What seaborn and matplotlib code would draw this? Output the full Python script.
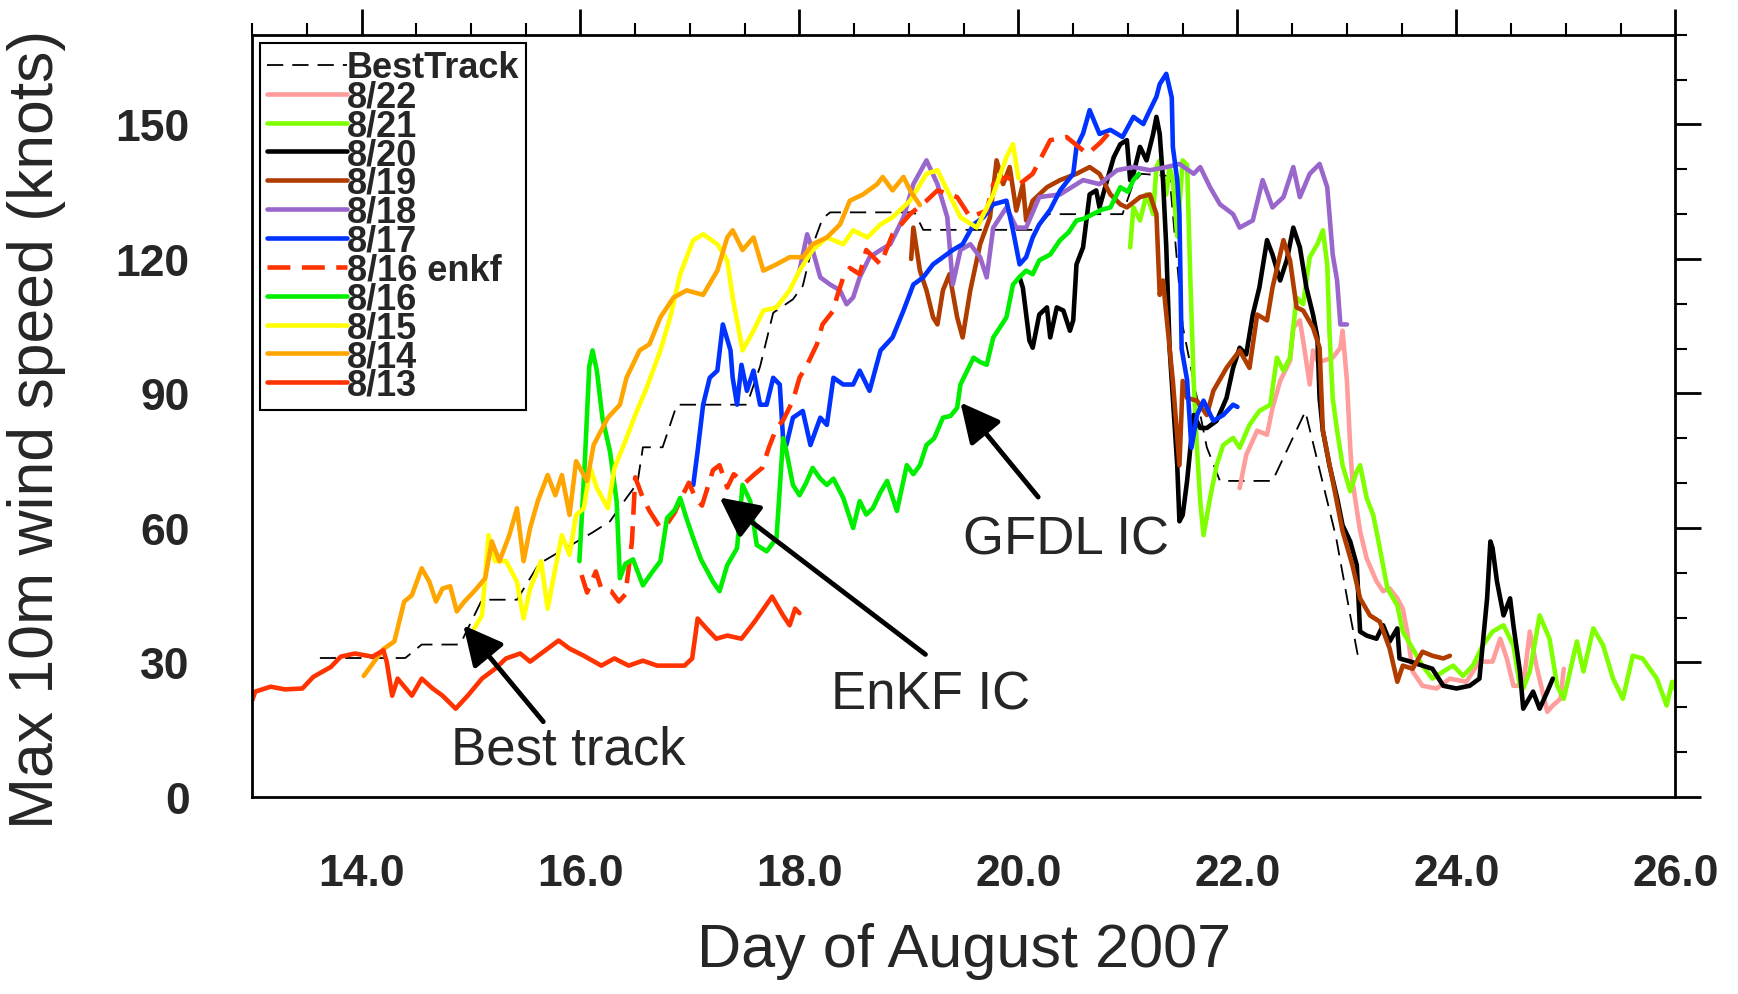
import matplotlib
matplotlib.use("Agg")
import matplotlib.pyplot as plt
from matplotlib.ticker import MultipleLocator, FormatStrFormatter
import seaborn as sns

# max 10 m wind (knots) vs day of August 2007
best = [(13.62, 31), (14.40, 31), (14.55, 34), (14.90, 34), (15.10, 44), (15.42, 44),
        (15.62, 52), (15.90, 56), (16.11, 59), (16.27, 61.5), (16.42, 66.7), (16.52, 70),
        (16.57, 78), (16.75, 78), (16.88, 87.5), (17.52, 87.5), (17.64, 96), (17.76, 108),
        (17.94, 111), (18.03, 114), (18.12, 123), (18.21, 129), (18.28, 130.4), (19.05, 130.4),
        (19.13, 126.5), (20.15, 126.5), (20.28, 130), (20.95, 130), (21.05, 137), (21.12, 139),
        (21.38, 138.5), (21.50, 105), (21.72, 78), (21.84, 70.5), (22.32, 70.5), (22.62, 86),
        (22.75, 73), (22.90, 58), (23.03, 40.5), (23.10, 31.5)]

run22 = [(22.02, 68.9), (22.08, 76.3), (22.18, 81.7), (22.27, 80.8), (22.32, 86.8), (22.39, 92.8),
         (22.48, 97.3), (22.51, 104.7), (22.57, 106.3), (22.60, 101.8), (22.66, 92), (22.69, 99.6),
         (22.73, 97.3), (22.78, 97.3), (22.87, 98), (22.94, 100.2), (22.96, 104), (23.00, 92.8),
         (23.03, 78), (23.05, 70.5), (23.12, 59.3), (23.18, 53.2), (23.27, 48.1), (23.33, 45.9),
         (23.39, 46.5), (23.46, 44.3), (23.51, 42), (23.55, 36.9), (23.60, 28), (23.69, 24.8),
         (23.82, 24.2), (23.94, 26.4), (24.09, 25.7), (24.21, 30.2), (24.33, 30.2), (24.40, 35.3),
         (24.46, 30.9), (24.52, 24.8), (24.61, 24.8), (24.67, 36.9), (24.73, 29.3), (24.83, 19),
         (24.88, 20.4), (24.95, 21.9), (24.98, 28.6)]

run21 = [(21.02, 122.6), (21.05, 131.5), (21.11, 128.6), (21.17, 134.4), (21.23, 130), (21.26, 140.5),
         (21.29, 142), (21.35, 134.4), (21.38, 140.5), (21.41, 137.6), (21.45, 125), (21.50, 142),
         (21.54, 141), (21.57, 115.2), (21.60, 92.8), (21.63, 77.9), (21.66, 66), (21.69, 58.4),
         (21.75, 66.7), (21.81, 74), (21.87, 78.5), (21.96, 80.1), (22.02, 77.9), (22.11, 83),
         (22.20, 86.1), (22.30, 87.5), (22.36, 98), (22.42, 95.1), (22.48, 98), (22.54, 111.4),
         (22.60, 109.9), (22.66, 120.4), (22.73, 123.3), (22.78, 126.4), (22.82, 118.8), (22.84, 104),
         (22.87, 89), (22.91, 81.7), (22.96, 74), (23.03, 68.2), (23.09, 72.7), (23.12, 74),
         (23.18, 66.7), (23.24, 62.9), (23.30, 55.5), (23.37, 46.5), (23.46, 42.7), (23.51, 36.9),
         (23.60, 33.1), (23.69, 29.3), (23.78, 26.4), (23.88, 28), (23.97, 29.3), (24.06, 27),
         (24.15, 29.3), (24.24, 33.8), (24.33, 36.9), (24.43, 38.3), (24.52, 33.8), (24.58, 24.8),
         (24.61, 24.2), (24.67, 28), (24.76, 40.5), (24.85, 35.3), (24.92, 24.8), (24.98, 21.9),
         (25.10, 34.7), (25.16, 28), (25.25, 37.6), (25.34, 33.8), (25.43, 26.4), (25.52, 21.9),
         (25.61, 31.5), (25.70, 30.9), (25.83, 26.4), (25.92, 20.4), (25.97, 25.7), (26.00, 24)]

run20 = [(20.01, 115.9), (20.04, 113.6), (20.10, 101.8), (20.13, 100.2), (20.19, 107.6), (20.26, 109.2),
         (20.29, 102.5), (20.35, 109.2), (20.41, 108.5), (20.47, 104), (20.50, 106.3), (20.53, 118.8),
         (20.59, 122.6), (20.65, 134.4), (20.71, 135.3), (20.74, 131.5), (20.81, 137.6), (20.87, 142.7),
         (20.93, 145.6), (20.99, 146.5), (21.02, 137.6), (21.05, 139), (21.11, 145), (21.17, 142),
         (21.23, 147.9), (21.26, 151.7), (21.29, 147.9), (21.32, 137.6), (21.35, 122.6), (21.38, 100.2),
         (21.41, 89), (21.45, 74), (21.47, 61.5), (21.50, 62.9), (21.54, 70.5), (21.57, 77.9),
         (21.60, 85.2), (21.66, 82.3), (21.72, 82.3), (21.81, 83.9), (21.90, 89), (21.96, 95.7),
         (22.02, 100.2), (22.08, 98.7), (22.14, 107.6), (22.20, 113.6), (22.27, 124.2), (22.32, 121),
         (22.39, 115.2), (22.45, 119.7), (22.51, 127), (22.57, 122.6), (22.63, 113.6), (22.69, 107.6),
         (22.73, 102.5), (22.75, 89), (22.78, 81.7), (22.84, 74), (22.91, 66.7), (22.96, 60.6),
         (23.03, 57), (23.09, 51.7), (23.12, 36.9), (23.18, 36), (23.27, 35.3), (23.33, 38.3),
         (23.39, 34.7), (23.46, 37.6), (23.48, 30.9), (23.58, 30.2), (23.69, 29.3), (23.78, 28.6),
         (23.88, 24.8), (24.00, 24.2), (24.12, 24.8), (24.21, 26.4), (24.28, 44.3), (24.31, 57),
         (24.33, 55.5), (24.37, 48.1), (24.43, 40.5), (24.49, 44.3), (24.52, 38.3), (24.58, 28),
         (24.61, 19.7), (24.70, 23.5), (24.76, 19.7), (24.83, 23.5), (24.88, 26.4)]

run19 = [(19.02, 120), (19.04, 127), (19.10, 117.4), (19.16, 113), (19.22, 107), (19.26, 105.4),
         (19.31, 113), (19.37, 116.6), (19.44, 107), (19.49, 102.5), (19.56, 113), (19.65, 123.3),
         (19.74, 129.3), (19.80, 142), (19.86, 136.7), (19.92, 140.5), (19.98, 130.8), (20.04, 136.7),
         (20.07, 128.6), (20.13, 133), (20.26, 136), (20.38, 137.6), (20.53, 139), (20.65, 140.5),
         (20.74, 139), (20.84, 134.4), (20.93, 132.2), (20.99, 131.5), (21.11, 133.8), (21.20, 134.4),
         (21.26, 130), (21.29, 112), (21.32, 115.2), (21.38, 100.2), (21.41, 92.8), (21.47, 74),
         (21.50, 92.8), (21.54, 89), (21.63, 88.4), (21.72, 85.2), (21.78, 90.6), (21.90, 95.7),
         (22.02, 99.6), (22.11, 95.7), (22.18, 107.6), (22.27, 106.3), (22.32, 113.6), (22.42, 124.2),
         (22.48, 119.7), (22.54, 109.2), (22.60, 108.5), (22.69, 104.7), (22.75, 100.2), (22.78, 81.7),
         (22.87, 70.5), (22.96, 59.3), (23.05, 51.7), (23.12, 44.3), (23.21, 40.5), (23.30, 39.1),
         (23.39, 33.1), (23.46, 25.7), (23.51, 29.3), (23.60, 28.6), (23.69, 32.4), (23.78, 31.5),
         (23.88, 30.9), (23.94, 31.5)]

run18 = [(18.00, 117.4), (18.07, 125.5), (18.12, 122), (18.19, 115.9), (18.28, 114.3), (18.37, 113),
         (18.43, 109.9), (18.49, 111.4), (18.55, 115.9), (18.64, 120.4), (18.74, 122), (18.83, 123.3),
         (18.95, 129.3), (19.04, 136.7), (19.16, 142), (19.26, 136.7), (19.35, 129.3), (19.40, 114.3),
         (19.47, 122), (19.56, 123.3), (19.65, 120.4), (19.71, 115.9), (19.77, 127), (19.89, 131.5),
         (19.98, 127), (20.07, 127), (20.19, 133.8), (20.38, 134.4), (20.59, 137.6), (20.74, 136.7),
         (20.90, 139.8), (21.05, 140.5), (21.20, 139.8), (21.35, 140.5), (21.47, 141.2), (21.60, 139),
         (21.66, 140.5), (21.75, 136), (21.84, 132.2), (21.96, 130), (22.02, 127), (22.14, 128.6),
         (22.23, 137.6), (22.32, 131.5), (22.42, 133.8), (22.51, 140.5), (22.57, 133.8), (22.66, 139),
         (22.75, 141.2), (22.82, 136), (22.84, 130), (22.87, 121), (22.91, 115.2), (22.94, 105.4),
         (23.00, 105.4)]

run17 = [(17.03, 69.6), (17.07, 77.2), (17.12, 87.5), (17.18, 93.5), (17.25, 95.1), (17.30, 105.4),
         (17.37, 99.6), (17.39, 93.5), (17.43, 87.5), (17.47, 96.4), (17.52, 90.6), (17.58, 95.1),
         (17.64, 87.5), (17.70, 87.5), (17.76, 93.5), (17.82, 92), (17.85, 80), (17.88, 78.5),
         (17.94, 84.6), (18.03, 86.1), (18.10, 78.5), (18.19, 84.6), (18.25, 83), (18.31, 93.5),
         (18.40, 92), (18.49, 92), (18.55, 95.1), (18.64, 90.6), (18.74, 99.6), (18.85, 102.5),
         (18.95, 108.5), (19.04, 114.3), (19.13, 115.9), (19.22, 118.8), (19.31, 120.4), (19.40, 122),
         (19.49, 123.3), (19.59, 127.7), (19.68, 129.3), (19.77, 132.2), (19.89, 133), (19.95, 126.4),
         (20.01, 118.8), (20.07, 120.4), (20.13, 124.8), (20.19, 127.7), (20.29, 131), (20.38, 135.3),
         (20.50, 139), (20.53, 145), (20.59, 148), (20.65, 153.2), (20.74, 147.9), (20.84, 148.8),
         (20.95, 147.2), (21.05, 151.7), (21.14, 150.1), (21.20, 153.2), (21.26, 156.2), (21.29, 159),
         (21.35, 161.3), (21.40, 156), (21.41, 145), (21.45, 137.6), (21.47, 130), (21.49, 100),
         (21.54, 93), (21.58, 77.9), (21.63, 85.2), (21.69, 88.4), (21.78, 83.9), (21.87, 85.2),
         (21.96, 87.5), (22.00, 87)]

run16e = [(16.01, 49.5), (16.06, 45.6), (16.14, 50.3), (16.19, 46.5), (16.28, 45.9), (16.35, 43.6),
          (16.41, 45.2), (16.44, 51), (16.47, 57), (16.50, 71.3), (16.57, 66.7), (16.63, 63.8),
          (16.73, 60), (16.79, 60.9), (16.86, 63.4), (16.92, 66.7), (16.99, 70.1), (17.05, 66.7),
          (17.11, 65), (17.21, 72.9), (17.27, 74), (17.34, 69), (17.40, 72), (17.50, 70),
          (17.59, 72), (17.66, 73.4), (17.72, 77.9), (17.79, 82.3), (17.85, 84), (17.94, 88.4),
          (18.00, 93.5), (18.07, 96.4), (18.16, 101), (18.21, 105.4), (18.31, 108.5), (18.34, 111.4),
          (18.40, 115.9), (18.46, 118), (18.55, 116.6), (18.61, 122), (18.74, 118.8), (18.85, 125.5),
          (19.01, 130), (19.16, 133), (19.26, 135.3), (19.44, 133.8), (19.56, 129.3), (19.71, 130.8),
          (19.77, 136.7), (19.89, 138.3), (20.01, 136.7), (20.13, 139), (20.29, 146.5), (20.44, 147.2),
          (20.63, 143.4), (20.75, 146), (20.85, 148.8)]

run16 = [(15.99, 52.6), (16.04, 75), (16.08, 96), (16.11, 99.6), (16.15, 95), (16.20, 84.6),
         (16.27, 77), (16.33, 66), (16.36, 48.8), (16.41, 52), (16.48, 53), (16.57, 47.2),
         (16.65, 50), (16.73, 52.6), (16.79, 62.2), (16.86, 64), (16.91, 66.7), (16.97, 62),
         (17.03, 57.7), (17.10, 53), (17.16, 50.3), (17.21, 48), (17.27, 45.9), (17.34, 51.7),
         (17.43, 55.5), (17.48, 69.6), (17.55, 66), (17.61, 56.2), (17.70, 54.8), (17.79, 57.7),
         (17.85, 80), (17.88, 77.2), (17.94, 69.6), (18.00, 67.3), (18.06, 70), (18.12, 73.4),
         (18.19, 71), (18.25, 69.6), (18.31, 71), (18.40, 66.7), (18.49, 60), (18.55, 66),
         (18.61, 63), (18.67, 64.4), (18.74, 68), (18.80, 70.5), (18.89, 63.8), (18.98, 74),
         (19.04, 72), (19.10, 74), (19.16, 78.5), (19.23, 80), (19.31, 84.6), (19.38, 85),
         (19.44, 86.8), (19.47, 92), (19.53, 95), (19.59, 98), (19.65, 97), (19.71, 96.4),
         (19.77, 102.5), (19.83, 104.7), (19.89, 107), (19.95, 114.3), (20.01, 116), (20.07, 117.4),
         (20.13, 116.6), (20.19, 119.7), (20.29, 121), (20.38, 124.2), (20.46, 126), (20.53, 128.6),
         (20.60, 129), (20.68, 130), (20.76, 131), (20.84, 131.5), (20.93, 136), (21.00, 135),
         (21.05, 137.6), (21.10, 139)]

run15 = [(15.03, 37.6), (15.10, 40.5), (15.16, 58.4), (15.22, 52.6), (15.32, 52.6), (15.42, 48),
         (15.48, 39.8), (15.54, 46.5), (15.64, 52.6), (15.70, 42), (15.77, 51), (15.83, 58.4),
         (15.90, 54), (15.96, 62.9), (16.03, 64.4), (16.09, 73.4), (16.15, 68.9), (16.25, 64.4),
         (16.31, 73.4), (16.41, 79.4), (16.50, 85.2), (16.60, 91), (16.73, 99.6), (16.82, 107),
         (16.91, 116.6), (17.03, 124.2), (17.12, 125.5), (17.25, 123.3), (17.34, 119.7), (17.39, 111.4),
         (17.48, 99.6), (17.58, 104), (17.67, 108.5), (17.79, 109.2), (17.91, 113), (18.00, 117.4),
         (18.12, 122), (18.25, 124.8), (18.40, 123.3), (18.49, 126.4), (18.62, 124.8), (18.74, 127.7),
         (18.85, 129.3), (19.01, 133), (19.16, 139), (19.26, 139.8), (19.35, 135.3), (19.47, 129.3),
         (19.62, 127), (19.77, 134.4), (19.89, 142.7), (19.95, 145.6), (20.00, 138)]

run14 = [(14.02, 27), (14.20, 33), (14.30, 34.7), (14.39, 43.6), (14.46, 45), (14.55, 51),
         (14.62, 48), (14.68, 43.6), (14.74, 46.5), (14.81, 47), (14.87, 41.4), (14.94, 43.6),
         (15.03, 45.9), (15.13, 48.8), (15.19, 57), (15.26, 52.6), (15.35, 58.4), (15.42, 64.4),
         (15.48, 52.6), (15.54, 60), (15.61, 66), (15.70, 71.8), (15.77, 67.3), (15.83, 71.8),
         (15.90, 62.9), (15.96, 74.9), (16.06, 70.5), (16.12, 78.5), (16.25, 84.6), (16.36, 87.5),
         (16.42, 93.5), (16.54, 99.6), (16.63, 101), (16.73, 107), (16.85, 111.4), (16.97, 113),
         (17.12, 112), (17.25, 117.4), (17.34, 124.8), (17.39, 126.4), (17.48, 122), (17.58, 124.8),
         (17.67, 117.4), (17.79, 118.8), (17.91, 120.4), (18.03, 120.4), (18.12, 123.3), (18.25, 124.8),
         (18.37, 127.7), (18.46, 133), (18.58, 134.4), (18.71, 136.7), (18.76, 138.3), (18.85, 135.3),
         (18.95, 138.3), (19.01, 135.3), (19.10, 132)]

run13 = [(13.00, 21.5), (13.03, 23.5), (13.17, 24.6), (13.30, 24), (13.46, 24.2), (13.56, 26.8),
         (13.72, 29), (13.81, 31.3), (13.94, 32), (14.10, 31.3), (14.20, 32.7), (14.23, 30.2),
         (14.28, 22.6), (14.33, 26.4), (14.46, 22.6), (14.55, 26.4), (14.65, 24.2), (14.74, 22.6),
         (14.86, 19.7), (14.97, 22.6), (15.10, 26.4), (15.22, 28.6), (15.32, 30.9), (15.45, 32),
         (15.54, 30.2), (15.64, 32), (15.80, 34.9), (15.90, 33.1), (16.03, 31.5), (16.19, 29.3),
         (16.31, 30.9), (16.44, 29.3), (16.57, 30.4), (16.70, 29.3), (16.83, 29.3), (16.95, 29.3),
         (17.02, 30.9), (17.07, 39.8), (17.15, 37.6), (17.24, 35.3), (17.34, 36), (17.47, 35.3),
         (17.59, 39.1), (17.75, 44.7), (17.85, 40.5), (17.91, 38.3), (17.96, 42), (18.00, 41)]

sns.set_style("white")
plt.rcParams["font.family"] = ["Liberation Sans", "DejaVu Sans"]

fig = plt.figure(figsize=(17.38, 9.95), dpi=100)
ax = fig.add_axes([0.145, 0.198, 0.819, 0.766])

# legend order is also drawing order
runs = [
    ("BestTrack", best, "black", 1.3, (0, (9, 5))),
    ("8/22", run22, "#ff9d9d", 3.3, "-"),
    ("8/21", run21, "#80ff00", 3.3, "-"),
    ("8/20", run20, "black", 3.3, "-"),
    ("8/19", run19, "#b03c00", 3.3, "-"),
    ("8/18", run18, "#9966cc", 3.3, "-"),
    ("8/17", run17, "#0033ff", 3.3, "-"),
    ("8/16 enkf", run16e, "#ff3300", 3.3, (0, (5, 2.5))),
    ("8/16", run16, "#00ee00", 3.3, "-"),
    ("8/15", run15, "#ffff00", 3.3, "-"),
    ("8/14", run14, "#ffa500", 3.3, "-"),
    ("8/13", run13, "#ff3300", 3.3, "-"),
]

handles = []
for name, pts, col, lw, ls in runs:
    days, knots = zip(*pts)
    sns.lineplot(x=list(days), y=list(knots), ax=ax, color=col, lw=lw, linestyle=ls,
                 sort=False, estimator=None, label=name)
    handles.append(ax.lines[-1])

ax.legend(handles=handles, labels=[r[0] for r in runs], loc="upper left",
          bbox_to_anchor=(0.0056, 0.989), borderaxespad=0, fancybox=False,
          edgecolor="black", framealpha=1, handlelength=2.2, handletextpad=0,
          labelspacing=-0.17, borderpad=0.2,
          prop={"weight": "bold", "size": 26})
ax.get_legend().get_frame().set_linewidth(1.5)

# arrows and notes
arrow = dict(arrowstyle="-|>,head_length=0.8,head_width=0.4",
             lw=3.5, color="black", mutation_scale=30, shrinkA=0, shrinkB=0)
ax.annotate("", xy=(14.93, 38.3), xytext=(15.66, 16.8), arrowprops=arrow)
ax.annotate("", xy=(17.27, 66.8), xytext=(19.15, 31.8), arrowprops=arrow)
ax.annotate("", xy=(19.47, 88.0), xytext=(20.18, 66.9), arrowprops=arrow)
ax.text(15.89, 10.7, "Best track", fontsize=38, ha="center", va="center")
ax.text(19.2, 22.8, "EnKF IC", fontsize=38, ha="center", va="center")
ax.text(20.43, 57.5, "GFDL IC", fontsize=38, ha="center", va="center")

ax.set_xlim(13, 26)
ax.set_ylim(0, 170)
ax.xaxis.set_major_locator(MultipleLocator(2))
ax.xaxis.set_minor_locator(MultipleLocator(0.5))
ax.xaxis.set_major_formatter(FormatStrFormatter("%.1f"))
ax.yaxis.set_major_locator(MultipleLocator(30))
ax.yaxis.set_minor_locator(MultipleLocator(10))

ax.tick_params(which="both", direction="out", top=True, right=True, color="black")
ax.tick_params(which="major", length=19, width=2)
ax.tick_params(which="minor", length=8.5, width=1.5)
ax.tick_params(axis="x", which="major", pad=21, labelsize=32)
ax.tick_params(axis="y", which="major", pad=26, labelsize=32)
for lab in ax.get_xticklabels() + ax.get_yticklabels():
    lab.set_fontweight("bold")
for sp in ax.spines.values():
    sp.set_linewidth(2)
    sp.set_color("black")

ax.set_xlabel("Day of August 2007", fontsize=44)
ax.set_ylabel("Max 10m wind speed (knots)", fontsize=45)
ax.xaxis.set_label_coords(0.5, -0.164)
ax.yaxis.set_label_coords(-0.131, 0.484)

fig.savefig("out.png", dpi=100, facecolor="white")
